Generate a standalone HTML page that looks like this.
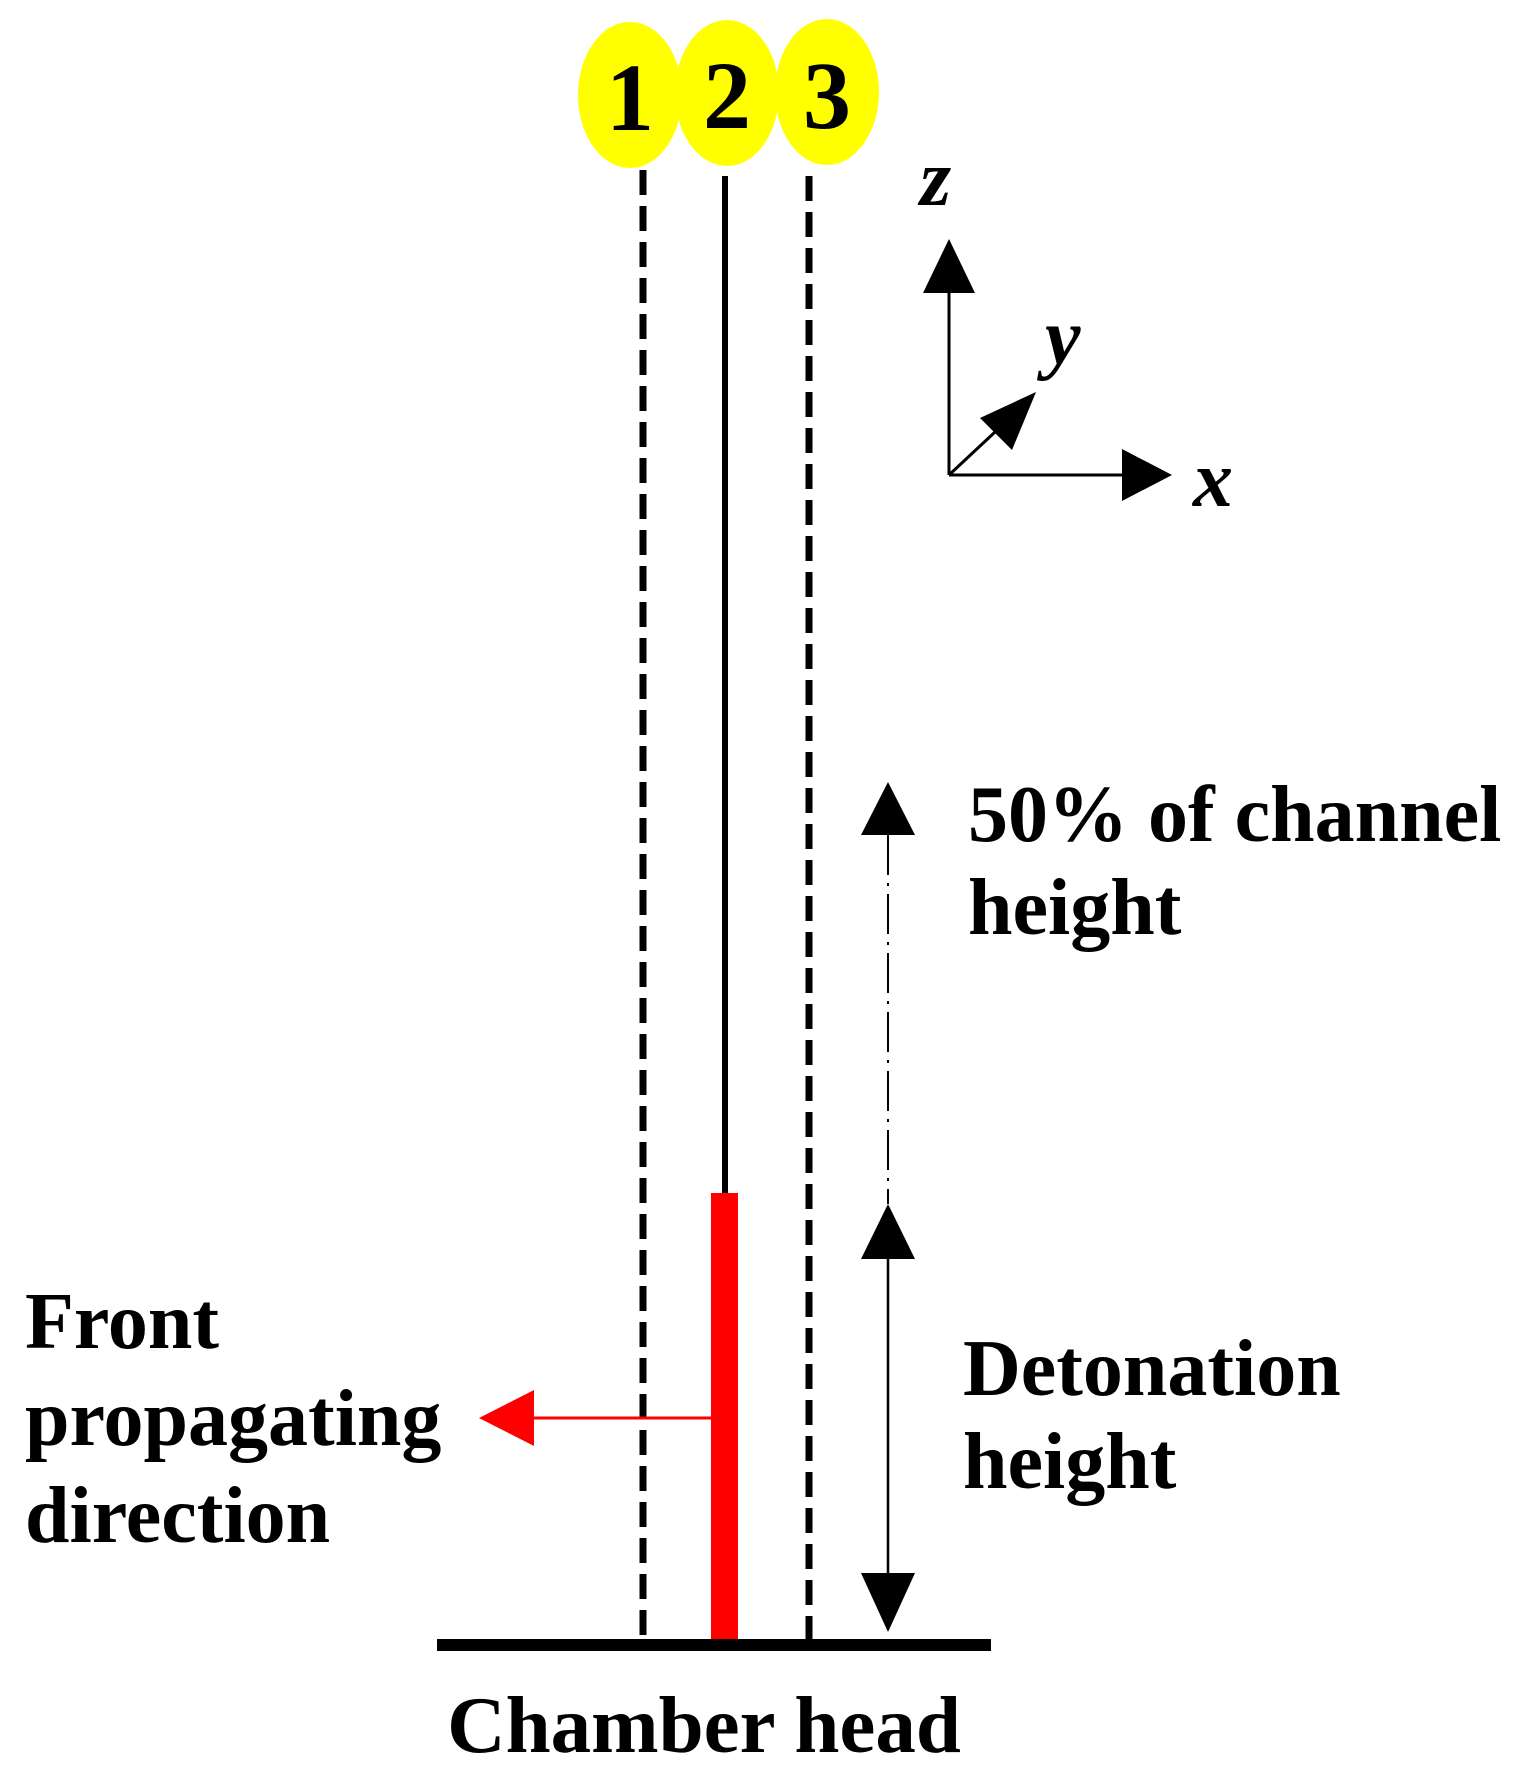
<!DOCTYPE html>
<html><head><style>
html,body{margin:0;padding:0;background:#fff;}
svg{display:block;}
text{font-family:"Liberation Serif",serif;font-weight:bold;fill:#000;}
</style></head><body>
<svg width="1522" height="1776" viewBox="0 0 1522 1776" xmlns="http://www.w3.org/2000/svg">
<ellipse cx="630" cy="95" rx="52" ry="73" fill="#ff0"/>
<ellipse cx="727" cy="93" rx="52" ry="73" fill="#ff0"/>
<ellipse cx="827" cy="92" rx="52" ry="73" fill="#ff0"/>
<text x="630" y="130" font-size="96" text-anchor="middle">1</text>
<text x="727" y="128" font-size="96" text-anchor="middle">2</text>
<text x="827" y="128" font-size="96" text-anchor="middle">3</text>

<line x1="643" y1="170" x2="643" y2="1640" stroke="#000" stroke-width="7" stroke-dasharray="25,11"/>
<line x1="809" y1="176" x2="809" y2="1640" stroke="#000" stroke-width="7" stroke-dasharray="25,11"/>
<line x1="725" y1="176" x2="725" y2="1195" stroke="#000" stroke-width="6"/>
<rect x="711" y="1193" width="27" height="451" fill="#f00"/>
<rect x="437" y="1639" width="554" height="12" fill="#000"/>

<line x1="711" y1="1418" x2="520" y2="1418" stroke="#f00" stroke-width="3"/>
<polygon points="479,1418 534,1390 534,1446" fill="#f00"/>

<line x1="888" y1="1255" x2="888" y2="1580" stroke="#000" stroke-width="2.5"/>
<polygon points="888,1204 861,1259 915,1259" fill="#000"/>
<polygon points="888,1632 861,1573 915,1573" fill="#000"/>
<line x1="888" y1="835" x2="888" y2="1204" stroke="#000" stroke-width="2" stroke-dasharray="40,8,3,8"/>
<polygon points="888,782 861,835 915,835" fill="#000"/>

<line x1="949" y1="475" x2="949" y2="290" stroke="#000" stroke-width="3"/>
<polygon points="949,239 923,293 975,293" fill="#000"/>
<line x1="949" y1="475" x2="1125" y2="475" stroke="#000" stroke-width="3"/>
<polygon points="1172,475 1122,449 1122,501" fill="#000"/>
<line x1="949" y1="475" x2="1010" y2="418" stroke="#000" stroke-width="3"/>
<polygon points="1036,392 980,418 1012,450" fill="#000"/>
<text x="920" y="205" font-size="80" font-style="italic">z</text>
<text x="1045" y="364" font-size="80" font-style="italic">y</text>
<text x="1193" y="506" font-size="80" font-style="italic">x</text>

<text x="968" y="841" font-size="80">50% of channel</text>
<text x="968" y="934" font-size="80">height</text>
<text x="963" y="1395" font-size="80">Detonation</text>
<text x="963" y="1488" font-size="80">height</text>
<text x="25" y="1348" font-size="80">Front</text>
<text x="25" y="1445" font-size="80">propagating</text>
<text x="25" y="1542" font-size="80">direction</text>
<text x="704" y="1752" font-size="81" text-anchor="middle">Chamber head</text>
</svg>
</body></html>
